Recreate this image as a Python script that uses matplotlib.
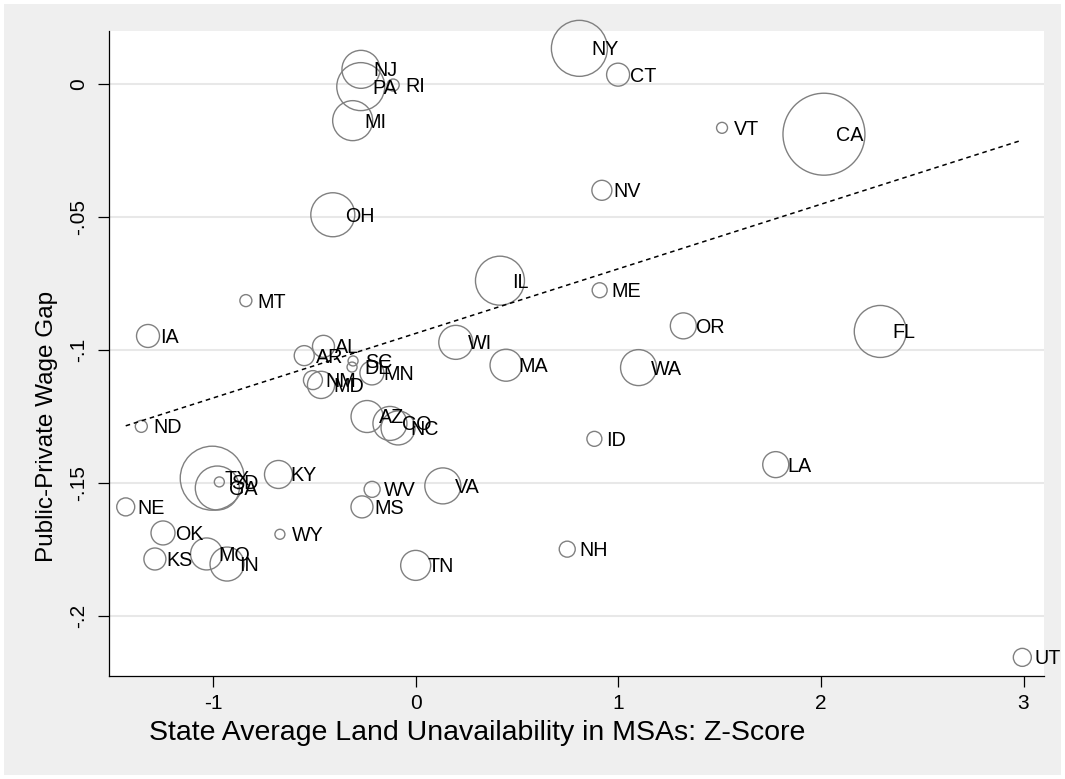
import matplotlib
matplotlib.use('Agg')
import matplotlib.pyplot as plt
from matplotlib.patches import Rectangle

plt.rcParams['font.family'] = ['Liberation Sans', 'DejaVu Sans']

# ---- data ----
states = ['NY', 'CT', 'NJ', 'PA', 'RI', 'MI', 'VT', 'CA', 'NV', 'OH', 'IL', 'ME',
          'MT', 'IA', 'OR', 'FL', 'WI', 'AL', 'AR', 'SC', 'DE', 'MN', 'NM', 'MD',
          'MA', 'WA', 'ND', 'AZ', 'CO', 'NC', 'ID', 'LA', 'TX', 'SD', 'GA', 'KY',
          'WV', 'VA', 'NE', 'MS', 'OK', 'WY', 'NH', 'KS', 'MO', 'IN', 'TN', 'UT']
land_z = [0.808, 0.999, -0.270, -0.271, -0.111, -0.311, 1.512, 2.015, 0.919, -0.409, 0.416, 0.908,
          -0.838, -1.321, 1.321, 2.293, 0.198, -0.455, -0.550, -0.309, -0.314, -0.216, -0.507, -0.467,
          0.446, 1.100, -1.354, -0.240, -0.127, -0.087, 0.882, 1.777, -1.004, -0.969, -0.979, -0.677,
          -0.215, 0.134, -1.431, -0.265, -1.247, -0.670, 0.748, -1.287, -1.032, -0.931, 0.000, 2.994]
wage_gap = [0.0136, 0.0037, 0.0057, -0.0008, -0.0002, -0.0136, -0.0163, -0.0187, -0.0398, -0.0490, -0.0738, -0.0774,
            -0.0813, -0.0946, -0.0908, -0.0929, -0.0970, -0.0985, -0.1020, -0.1040, -0.1063, -0.1085, -0.1112, -0.1130,
            -0.1056, -0.1065, -0.1286, -0.1249, -0.1275, -0.1292, -0.1333, -0.1430, -0.1481, -0.1495, -0.1518, -0.1467,
            -0.1523, -0.1510, -0.1589, -0.1589, -0.1687, -0.1692, -0.1748, -0.1785, -0.1766, -0.1804, -0.1809, -0.2155]
pop_weight = [7.84, 1.32, 3.61, 5.76, 0.36, 4.00, 0.30, 16.8, 1.00, 4.84, 6.00, 0.56,
              0.36, 1.32, 1.69, 6.76, 2.89, 1.21, 1.00, 0.25, 0.25, 1.44, 0.90, 1.85,
              2.56, 3.24, 0.36, 2.56, 2.89, 2.89, 0.56, 1.69, 10.24, 0.25, 4.84, 1.96,
              0.64, 3.24, 0.81, 1.21, 1.44, 0.25, 0.64, 1.21, 2.56, 2.89, 2.25, 0.81]
fit_x = [-1.431, 2.994]
fit_y = [-0.1284, -0.0209]
x_ticks = [-1, 0, 1, 2, 3]
x_tick_labels = ['-1', '0', '1', '2', '3']
y_ticks = [0, -0.05, -0.10, -0.15, -0.20]
y_tick_labels = ['0', '-.05', '-.1', '-.15', '-.2']
x_title = 'State Average Land Unavailability in MSAs: Z-Score'
y_title = 'Public-Private Wage Gap'

W, H = 1065, 779
fig = plt.figure(figsize=(W / 100, H / 100), dpi=100)
fig.patch.set_facecolor('white')
fig.patches.append(Rectangle((4 / W, 4 / H), 1 - 8 / W, 1 - 8 / H, transform=fig.transFigure,
                             facecolor='#efefef', edgecolor='none', zorder=-10))

ax = fig.add_axes([108.7 / W, 1 - 675.7 / H, (1044 - 108.7) / W, (675.7 - 30.8) / H])
ax.set_zorder(1)
ax.set_facecolor('white')
ax.set_xlim(-1.515, 3.101)
ax.set_ylim(-0.2224, 0.0202)

for s in ['top', 'right']:
    ax.spines[s].set_visible(False)
for s in ['left', 'bottom']:
    ax.spines[s].set_color('black')
    ax.spines[s].set_linewidth(0.9)

ax.set_yticks(y_ticks)
ax.set_yticklabels(y_tick_labels, rotation=90, va='center', fontsize=15)
ax.set_xticks(x_ticks)
ax.set_xticklabels(x_tick_labels, fontsize=15)
ax.tick_params(axis='both', direction='out', length=8, width=0.9, color='black')
ax.tick_params(axis='y', pad=6.5)
ax.tick_params(axis='x', pad=5.5)
ax.yaxis.grid(True, color='#e8e8e8', linewidth=1.5)
ax.set_axisbelow(True)

sizes = [w * 207.3 for w in pop_weight]
ax.scatter(land_z, wage_gap, s=sizes, facecolors='none', edgecolors='#808080',
           linewidths=1.0, zorder=3, clip_on=False)
ax.plot(fit_x, fit_y, color='black', linestyle=(0, (3, 2.5)), linewidth=1.1, zorder=4)

for st, x, y in zip(states, land_z, wage_gap):
    ax.annotate(st, (x, y), xytext=(8.6, -5.0), textcoords='offset points',
                ha='left', va='baseline', fontsize=14.2, color='black', zorder=5,
                annotation_clip=False)

fig.text(477.6 / W, 1 - 732.7 / H, x_title, ha='center', va='center', fontsize=20.5, zorder=2)
fig.text(47.5 / W, 1 - 426 / H, y_title, ha='center', va='center', rotation=90, fontsize=17.5, zorder=2)

fig.savefig('out.png', dpi=100)
